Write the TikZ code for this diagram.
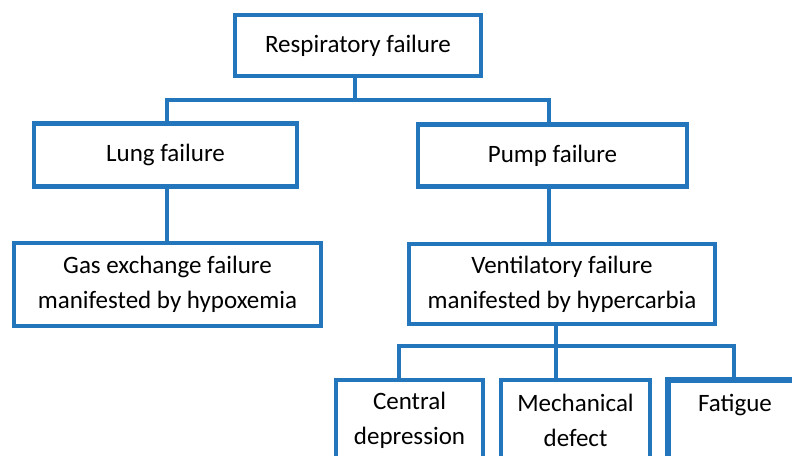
\documentclass[tikz,border=0pt]{standalone}
\usepackage{fontspec}
\setmainfont{Carlito}
\definecolor{boxblue}{RGB}{36,118,188}
\begin{document}
\begin{tikzpicture}[x=1pt,y=-1pt,
  box/.style={draw=boxblue, line width=4.5pt, fill=white, align=center, inner sep=0pt,
    font=\fontsize{25}{35}\selectfont, text=black},
  link/.style={draw=boxblue, line width=3.5pt}]
\useasboundingbox (0,0) rectangle (792,455);
\fill[white] (0,0) rectangle (792,455);
% boxes
\node[box, minimum width=246pt, minimum height=61pt] (resp) at (358,45.5) {Respiratory failure};
\node[box, minimum width=263pt, minimum height=63pt] (lung) at (165.5,155) {Lung failure};
\node[box, minimum width=269pt, minimum height=62pt] (pump) at (552.5,155.5) {Pump failure};
\node[box, minimum width=307pt, minimum height=83pt] (gas) at (167.5,284.5) {Gas exchange failure\\manifested by hypoxemia};
\node[box, minimum width=306pt, minimum height=80pt] (vent) at (562,284) {Ventilatory failure\\manifested by hypercarbia};
\node[box, minimum width=147pt, minimum height=80pt] (cd) at (409.5,420) {Central\\depression};
\node[box, minimum width=149pt, minimum height=80pt] (mech) at (575.5,420) {Mechanical\\defect};
\node[box, line width=5.5pt, minimum width=134pt, minimum height=80pt] (fat) at (735,420) {Fatigue\\\mbox{}};
% connector positions
\coordinate (j1) at (355,100);
\coordinate (xl) at (167,0);
\coordinate (xp) at (549,0);
\coordinate (j2) at (556,346);
\coordinate (xc) at (399,0);
\coordinate (xf) at (734,0);
% connectors
\draw[link] (resp.south -| j1) -- (j1);
\draw[link] (lung.north -| xl) |- (j1) -| (pump.north -| xp);
\draw[link] (lung.south -| xl) -- (gas.north -| xl);
\draw[link] (pump.south -| xp) -- (vent.north -| xp);
\draw[link] (vent.south -| j2) -- (mech.north -| j2);
\draw[link] (cd.north -| xc) |- (j2) -| (fat.north -| xf);
\end{tikzpicture}
\end{document}
